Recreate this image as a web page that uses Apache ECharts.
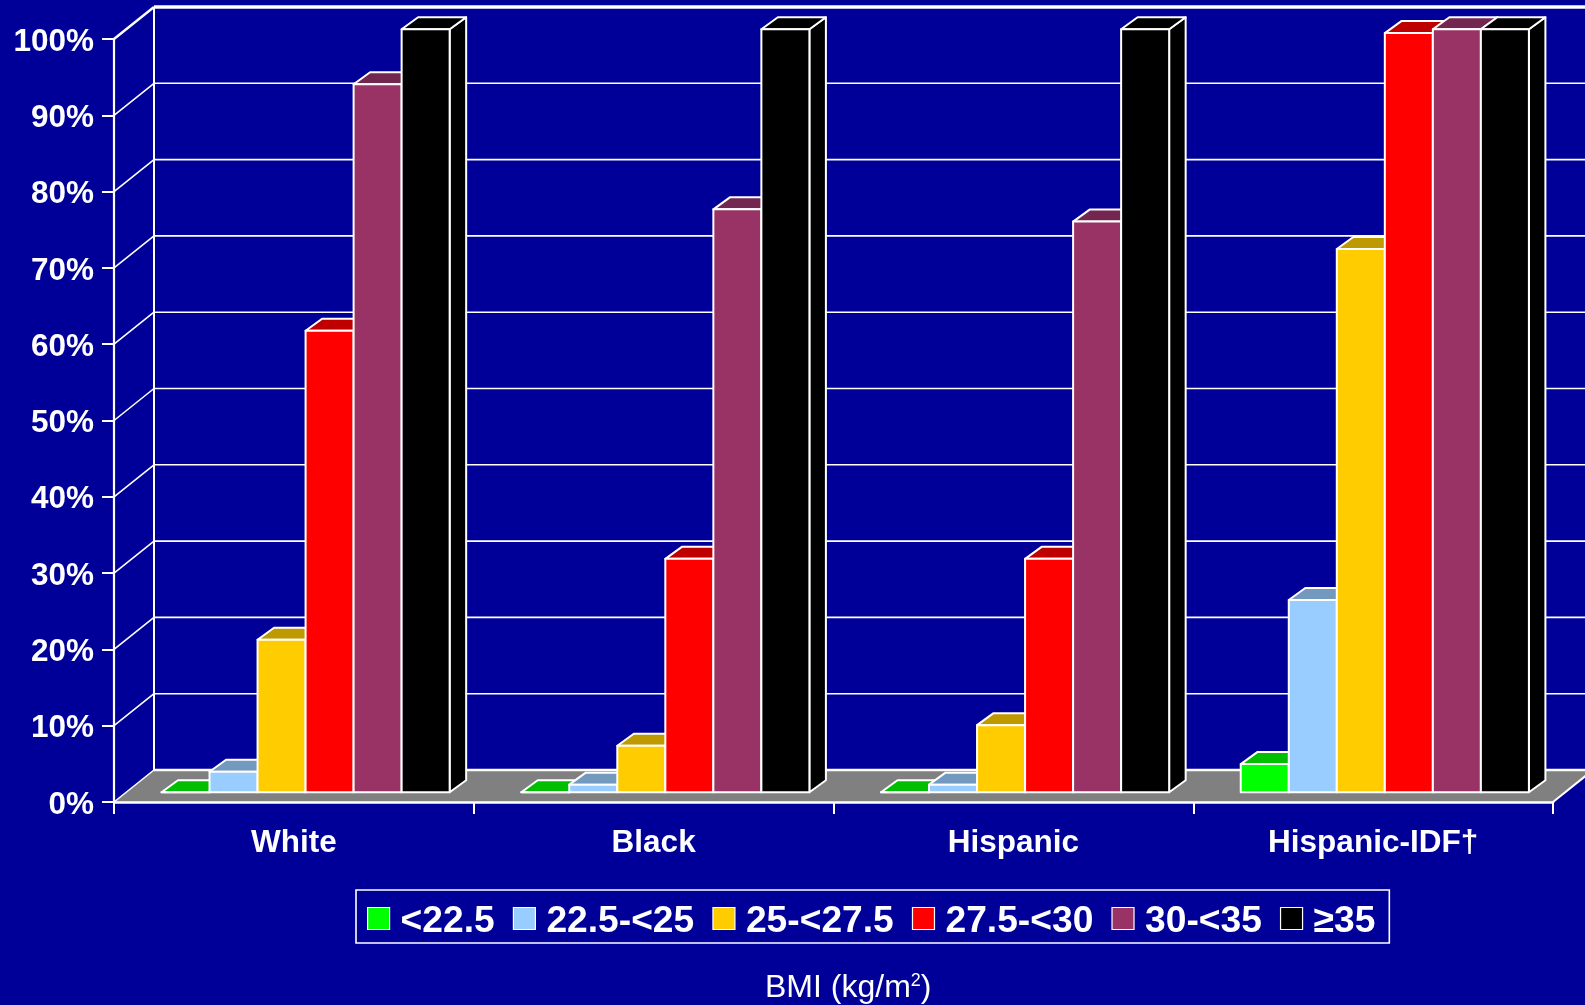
<!DOCTYPE html>
<html>
<head>
<meta charset="utf-8">
<style>html,body{margin:0;padding:0;background:#000099}#chart{width:1585px;height:1005px}</style>
<script src="https://cdn.jsdelivr.net/npm/echarts@6/dist/echarts.min.js"></script>
</head>
<body>
<div id="chart"></div>
<script>
// Ethnic groups along the horizontal axis
const categories = ['White', 'Black', 'Hispanic', 'Hispanic-IDF†'];
const yTicks = [0, 10, 20, 30, 40, 50, 60, 70, 80, 90, 100];

// Share per BMI band, one list per band, in category order
const bmiUnder225 = [0, 0, 0, 3.7];
const bmi225to25 = [2.7, 1, 1, 25.2];
const bmi25to275 = [20, 6.1, 8.8, 71.2];
const bmi275to30 = [60.5, 30.6, 30.6, 99.5];
const bmi30to35 = [92.8, 76.4, 74.8, 100];
const bmiOver35 = [100, 100, 100, 100];

const bandNames = ['<22.5', '22.5-<25', '25-<27.5', '27.5-<30', '30-<35', '≥35'];
const bandValues = [bmiUnder225, bmi225to25, bmi25to275, bmi275to30, bmi30to35, bmiOver35];
const frontColors = ['#00ff00', '#99ccff', '#ffcc00', '#ff0000', '#993366', '#000000'];
const topColors = ['#00bf00', '#7399bf', '#bf9900', '#bf0000', '#732650', '#000000'];

const FONT = '"Liberation Sans", Arial, sans-serif';
const WHITE = '#ffffff';

// Oblique projection: depth of the whole chart box, of the bars, and the bars' inset from the front
const WALL_DX = 40, WALL_DY = -32;
const BAR_DX = 16.5, BAR_DY = -12;
const INSET_DX = 11.7, INSET_DY = -9.7;
const BAR_SHARE = 0.1335;

const chart = echarts.init(document.getElementById('chart'), null, { renderer: 'canvas' });

// Grey floor of the box
function renderFloor(params, api) {
  const cs = params.coordSys;
  const y0 = api.coord([0, 0])[1];
  const x0 = cs.x, x1 = cs.x + cs.width;
  return {
    type: 'group',
    children: [
      { type: 'polygon', shape: { points: [[x0, y0], [x0 + WALL_DX, y0 + WALL_DY], [x1 + WALL_DX, y0 + WALL_DY], [x1, y0]] },
        style: { fill: '#808080', stroke: 'none' } },
      { type: 'line', shape: { x1: x1, y1: y0, x2: x1 + WALL_DX, y2: y0 + WALL_DY },
        style: { stroke: WHITE, lineWidth: 2 } }
    ]
  };
}

// Gridline running up the side wall and along the back wall
function renderGridline(params, api) {
  const cs = params.coordSys;
  const v = api.value(0);
  const y = api.coord([0, v])[1];
  const x0 = cs.x, x1 = cs.x + cs.width;
  const width = v === 100 ? 3.5 : v === 0 ? 2.5 : 1.6;
  return {
    type: 'group',
    children: [
      { type: 'line', shape: { x1: x0, y1: y, x2: x0 + WALL_DX, y2: y + WALL_DY }, style: { stroke: WHITE, lineWidth: v === 100 ? 2.5 : 1.6 } },
      { type: 'line', shape: { x1: x0 + WALL_DX, y1: y + WALL_DY, x2: x1 + WALL_DX, y2: y + WALL_DY }, style: { stroke: WHITE, lineWidth: width } }
    ]
  };
}

// Vertical edge where the side wall meets the back wall
function renderWallEdge(params, api) {
  const bottom = api.coord([0, 0]);
  const top = api.coord([0, 100]);
  const x = params.coordSys.x + WALL_DX;
  return { type: 'line', shape: { x1: x, y1: bottom[1] + WALL_DY, x2: x, y2: top[1] + WALL_DY }, style: { stroke: WHITE, lineWidth: 2 } };
}

// One block: front, top and right faces
function barRenderer(seriesIndex) {
  return function (params, api) {
    const center = api.coord([api.value(0), 0]);
    const top = api.coord([api.value(0), api.value(1)]);
    const band = api.size([1, 0])[0];
    const w = band * BAR_SHARE;
    const xl = center[0] + (seriesIndex - 3) * w + INSET_DX;
    const xr = xl + w;
    const yb = center[1] + INSET_DY;
    const yt = top[1] + INSET_DY;
    const outline = { stroke: WHITE, lineWidth: 2, lineJoin: 'round' };
    return {
      type: 'group',
      children: [
        { type: 'polygon', shape: { points: [[xr, yb], [xr + BAR_DX, yb + BAR_DY], [xr + BAR_DX, yt + BAR_DY], [xr, yt]] },
          style: Object.assign({ fill: topColors[seriesIndex] }, outline) },
        { type: 'polygon', shape: { points: [[xl, yt], [xl + BAR_DX, yt + BAR_DY], [xr + BAR_DX, yt + BAR_DY], [xr, yt]] },
          style: Object.assign({ fill: topColors[seriesIndex] }, outline) },
        { type: 'polygon', shape: { points: [[xl, yb], [xl, yt], [xr, yt], [xr, yb]] },
          style: Object.assign({ fill: frontColors[seriesIndex] }, outline) }
      ]
    };
  };
}

const boxSeries = [
  { type: 'custom', renderItem: renderFloor, data: [[0]], silent: true, z: 1 },
  { type: 'custom', renderItem: renderGridline, data: yTicks.map(v => [v]), encode: { y: 0 }, silent: true, z: 1 },
  { type: 'custom', renderItem: renderWallEdge, data: [[0]], silent: true, z: 1 }
];

const barSeries = bandNames.map((name, i) => ({
  type: 'custom',
  name: name,
  renderItem: barRenderer(i),
  itemStyle: { color: frontColors[i] },
  encode: { x: 0, y: 1 },
  data: categories.map((c, k) => [k, bandValues[i][k]]),
  z: 2
}));

chart.setOption({
  animation: false,
  backgroundColor: '#000099',
  title: {
    text: 'BMI (kg/m{s|2})',
    left: 765,
    top: 972,
    padding: 0,
    textStyle: {
      color: WHITE, fontFamily: FONT, fontWeight: 'normal', fontSize: 32,
      rich: { s: { color: WHITE, fontFamily: FONT, fontSize: 18, verticalAlign: 'top', lineHeight: 10 } }
    }
  },
  legend: {
    data: bandNames,
    left: 356,
    top: 890,
    orient: 'horizontal',
    icon: 'rect',
    itemWidth: 22,
    itemHeight: 22,
    itemGap: 18.1,
    padding: [13, 14, 3, 11],
    borderColor: WHITE,
    borderWidth: 1.6,
    itemStyle: { borderColor: WHITE, borderWidth: 1.2 },
    formatter: name => '{t|' + name + '}',
    textStyle: {
      color: WHITE,
      rich: { t: { color: WHITE, fontFamily: FONT, fontWeight: 'bold', fontSize: 37.2, padding: [6, 0, 0, 6] } }
    }
  },
  grid: { left: 114, right: 32, top: 39, height: 763, containLabel: false },
  xAxis: {
    type: 'category',
    data: categories,
    boundaryGap: true,
    z: 5,
    axisLine: { lineStyle: { color: WHITE, width: 2.5 } },
    axisTick: { show: true, alignWithLabel: false, length: 12, lineStyle: { color: WHITE, width: 2 } },
    axisLabel: { color: WHITE, fontFamily: FONT, fontWeight: 'bold', fontSize: 31.5, margin: 25, interval: 0 }
  },
  yAxis: {
    type: 'value',
    min: 0,
    max: 100,
    interval: 10,
    z: 5,
    splitLine: { show: false },
    axisLine: { show: true, lineStyle: { color: WHITE, width: 2.2 } },
    axisTick: { show: true, length: 12, lineStyle: { color: WHITE, width: 2 } },
    axisLabel: {
      margin: 20,
      formatter: v => '{t|' + v + '%}',
      rich: { t: { color: WHITE, fontFamily: FONT, fontWeight: 'bold', fontSize: 31.5, padding: [6, 0, 0, 0] } }
    }
  },
  series: boxSeries.concat(barSeries)
});
</script>
</body>
</html>
